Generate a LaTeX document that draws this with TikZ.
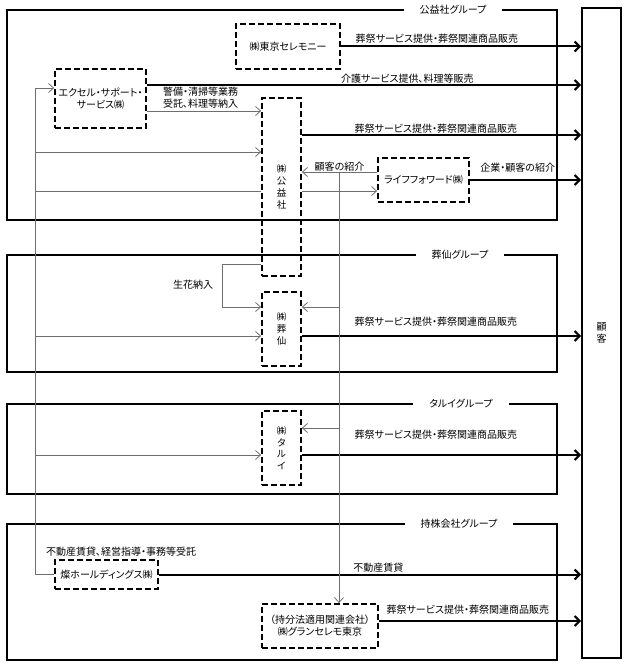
\documentclass[tikz,border=0pt]{standalone}
\usepackage{fontspec}
\setmainfont{Noto Sans CJK JP}[RawFeature=+palt]
\usetikzlibrary{arrows.meta}
\definecolor{lineg}{RGB}{110,110,110}
\tikzset{
  co/.style={draw, line width=1.8pt, dash pattern=on 6pt off 3pt, align=center, inner sep=0pt},
  grp/.style={draw, line width=2pt},
  gtitle/.style={fill=white, inner xsep=16pt, inner ysep=1pt},
  lbl/.style={inner sep=0pt, align=left, text=black},
  thk/.style={line width=2pt, -{Straight Barb[length=5pt,width=10pt]}},
  thn/.style={lineg, line width=0.8pt, -{Straight Barb[length=5pt,width=9pt]}},
  thnl/.style={lineg, line width=0.8pt},
}
\begin{document}
\begin{tikzpicture}[x=1pt, y=-1pt, font=\fontsize{10}{12}\selectfont]
      \useasboundingbox (0,0) rectangle (627,668);

      \draw[grp] (7,10) rectangle (557,220);
      \draw[grp] (7,255) rectangle (557,372);
      \draw[grp] (7,404) rectangle (557,494);
      \draw[grp] (7,524) rectangle (557,660);
      \node[gtitle] (g1) at (453,10) {公益社グループ};
      \node[gtitle] (g2) at (460,255) {葬仙グループ};
      \node[gtitle] (g3) at (461,404) {タルイグループ};
      \node[gtitle] (g4) at (459,524) {持株会社グループ};

      \node[co, minimum width=104pt, minimum height=45pt] (tokyo) at (288,46.5) {㈱東京セレモニー};
      \node[co, minimum width=91pt, minimum height=59pt] (excel) at (100.5,98.5) {エクセル・サポート・\\サービス㈱};
      \node[co, minimum width=39pt, minimum height=178pt, font=\fontsize{9.5}{12}\selectfont] (koueki) at (281.5,187) {㈱\\公\\益\\社};
      \node[co, minimum width=91pt, minimum height=44pt] (life) at (423.5,180) {ライフフォワード㈱};
      \node[co, minimum width=39pt, minimum height=74pt, font=\fontsize{9.5}{12}\selectfont] (sosen) at (281.5,329) {㈱\\葬\\仙};
      \node[co, minimum width=39pt, minimum height=74pt, font=\fontsize{9.5}{11.5}\selectfont] (tarui) at (281.5,448) {㈱\\タ\\ル\\イ};
      \node[co, minimum width=103pt, minimum height=29pt] (hd) at (106.5,574.5) {燦ホールディングス㈱};
      \node[co, minimum width=116pt, minimum height=44pt] (gran) at (320,626) {（持分法適用関連会社）\\㈱グランセレモ東京};
      \node[draw, line width=2pt, minimum width=39pt, minimum height=650pt, align=center] (kokyaku) at (601.5,333) {顧\\客};

      % to customers
      \draw[thk] (tokyo.east) -- (tokyo.east -| kokyaku.west)
        node[lbl, pos=0.40, yshift=7.5pt] (t1) {葬祭サービス提供・葬祭関連商品販売};
      \draw[thk] ([yshift=13.5pt]excel.east) coordinate (e1) -- (e1 -| kokyaku.west)
        node[lbl, pos=0.60, yshift=6.5pt] (t2) {介護サービス提供、料理等販売};
      \draw[thk] ([yshift=52pt]koueki.east) coordinate (k1) -- (k1 -| kokyaku.west)
        node[lbl, pos=0.48, yshift=6.5pt] (t3) {葬祭サービス提供・葬祭関連商品販売};
      \draw[thk] (life.east) -- (life.east -| kokyaku.west)
        node[lbl, pos=0.43, yshift=12.5pt] (t4) {企業・顧客の紹介};
      \draw[thk] ([yshift=-7pt]sosen.east) coordinate (s2) -- (s2 -| kokyaku.west)
        node[lbl, pos=0.48, yshift=14.5pt] (t5) {葬祭サービス提供・葬祭関連商品販売};
      \draw[thk] ([yshift=-7pt]tarui.east) coordinate (r2) -- (r2 -| kokyaku.west)
        node[lbl, pos=0.48, yshift=20pt] (t6) {葬祭サービス提供・葬祭関連商品販売};
      \draw[thk] (hd.east) -- (hd.east -| kokyaku.west)
        node[lbl, pos=0.52, yshift=6.5pt] (t7) {不動産賃貸};
      \draw[thk] ([yshift=5pt]gran.east) coordinate (n1) -- (n1 -| kokyaku.west)
        node[lbl, pos=0.44, yshift=11pt] (t8) {葬祭サービス提供・葬祭関連商品販売};

      % between companies
      \draw[thn] ([yshift=-12.5pt]excel.east) coordinate (e2) -- (e2 -| koueki.west)
        node[lbl, pos=0.47, yshift=13pt] (t9) {警備・清掃等業務\\受託、料理等納入};
      \draw[thn] ([yshift=8pt]life.west) coordinate (f1) -- (f1 -| koueki.east)
        node[lbl, midway, yshift=5.5pt] (t10) {顧客の紹介};
      \coordinate (f2) at ([yshift=-11pt]life.west);
      \draw[thn] (f2 -| koueki.east) -- (f2);
      \draw[thn] ([yshift=-77pt]koueki.west) -- ++(-39,0) |- ([yshift=22pt]sosen.west);
      \node[lbl] (kaki) at (193,285) {生花納入};

      \coordinate (vx) at (339,172);
      \draw[thn] (vx) -- (vx |- gran.north);
      \draw[thn] ([yshift=22pt]sosen.east -| vx) -- ([yshift=22pt]sosen.east);
      \draw[thn] ([yshift=20pt]tarui.east -| vx) -- ([yshift=20pt]tarui.east);

      \coordinate (lt) at (35,88);
      \draw[thn] (hd.west) -| (lt) -- (lt -| excel.west);
      \node[lbl] (t11) at (121,552) {不動産賃貸、経営指導・事務等受託};
      \coordinate (b1) at (35,152);
      \coordinate (b2) at (35,191);
      \coordinate (b3) at (35,336);
      \coordinate (b4) at (35,455);
      \draw[thn] (b1) -- (b1 -| koueki.west);
      \draw[thnl] (b2) -- (b2 -| koueki.west);
      \draw[thn] (b3) -- (b3 -| sosen.west);
      \draw[thn] (b4) -- (b4 -| tarui.west);
\end{tikzpicture}
\end{document}
